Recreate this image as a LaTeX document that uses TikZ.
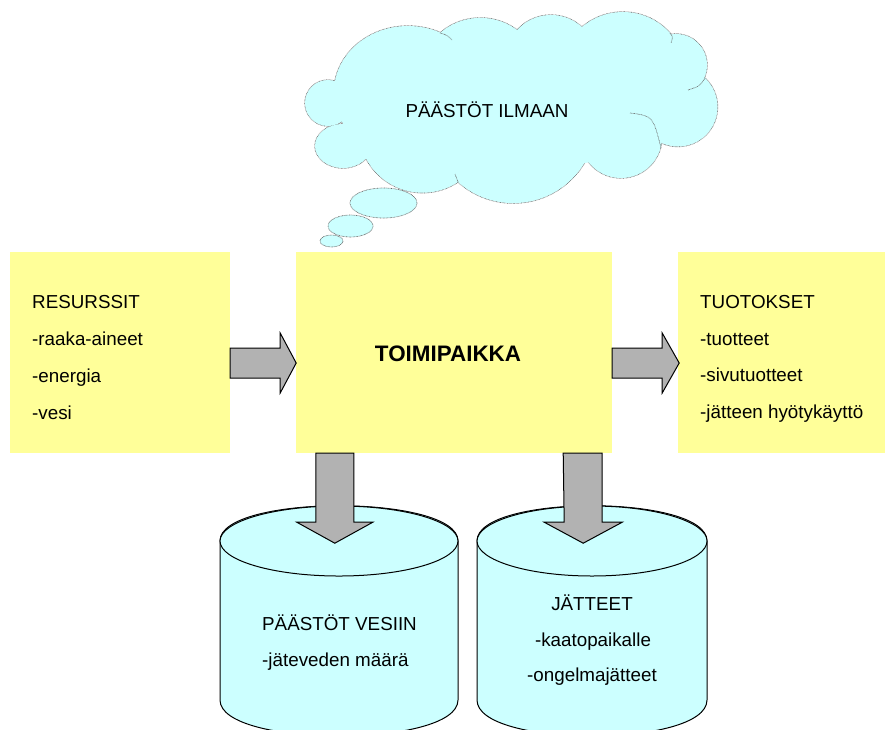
\documentclass[tikz,border=0pt]{standalone}
\usepackage{fontspec}
\setmainfont{Liberation Sans}
\usetikzlibrary{calc}
\definecolor{boxyellow}{HTML}{FFFF99}
\definecolor{cloudcyan}{HTML}{CCFFFF}
\definecolor{arrowgray}{HTML}{B2B2B2}
\tikzset{
  panel/.style={fill=boxyellow, draw=none, inner sep=0pt},
  lbl/.style={font=\fontsize{18.8}{22}\selectfont, inner sep=0pt},
  boldlbl/.style={font=\bfseries\fontsize{22.4}{26}\selectfont, inner sep=0pt},
  blockarrow/.style={fill=arrowgray, draw=black, line width=1pt, line join=miter},
  cylst/.style={fill=cloudcyan, draw=black, line width=1pt},
  cloudborder/.style={draw=black!60, line width=1.3pt, dash pattern=on 0.7pt off 0.7pt},
  cloudline/.style={draw=black!60, line width=0.65pt, dash pattern=on 0.7pt off 0.7pt},
}
\begin{document}
\begin{tikzpicture}[x=1pt,y=-1pt]
\useasboundingbox[fill=white] (0,0) rectangle (885,729);

% ---------- cloud ----------
\def\lobes{328/103/23/23, 343/146/28/22, 422.6/128.9/63.8/63.8, 513.3/120.1/83/83,
  621/137/41/41, 678/107/39.5/39.5, 676/65/31/31, 622.9/75.3/63.3/63.3,
  551/60.8/45.8/45.8, 480.4/79.5/61.6/61.6, 408/92/74/66}
\foreach \cx/\cy/\rx/\ry in \lobes {
  \draw[cloudborder] (\cx,\cy) ellipse[x radius=\rx, y radius=\ry];
}
\foreach \cx/\cy/\rx/\ry in \lobes {
  \fill[cloudcyan] (\cx,\cy) ellipse[x radius=\rx, y radius=\ry];
}
\fill[cloudcyan] (360,80) -- (440,45) -- (520,45) -- (580,45) -- (660,50) -- (690,80)
  -- (680,130) -- (600,160) -- (500,180) -- (420,170) -- (360,140) -- cycle;
% interior hooks
\draw[cloudline] (630,113) .. controls (653,116) .. (661,148);
\draw[cloudline] (688,90) .. controls (700,86) .. (705,78);
\draw[cloudline] (670,33) .. controls (673,37) .. (671,43);
\draw[cloudline] (440,33) .. controls (447,35) .. (452,40);
\draw[cloudline] (458,182) .. controls (456,178) .. (455,174);
% thought bubbles
\draw[cloudline, fill=cloudcyan] (383.5,203) ellipse[x radius=33.5, y radius=15];
\draw[cloudline, fill=cloudcyan] (350.5,226) ellipse[x radius=22.5, y radius=11];
\draw[cloudline, fill=cloudcyan] (331.5,241) ellipse[x radius=11.5, y radius=6];
\node[lbl, anchor=base] (cloudT) at (487,117) {PÄÄSTÖT ILMAAN};

% ---------- boxes ----------
\node[panel, minimum width=220pt, minimum height=201pt] (res) at (120,352.5) {};
\node[panel, minimum width=316pt, minimum height=201pt] (toimi) at (454,352.5) {};
\node[panel, minimum width=207pt, minimum height=201pt] (tuot) at (781.5,352.5) {};

\node[lbl, anchor=base west] (r1) at (32,308) {RESURSSIT};
\node[lbl, anchor=base west] (r2) at (32,345) {-raaka-aineet};
\node[lbl, anchor=base west] (r3) at (32,382) {-energia};
\node[lbl, anchor=base west] (r4) at (32,419) {-vesi};

\node[boldlbl, anchor=base] (toimiT) at (448,361) {TOIMIPAIKKA};

\node[lbl, anchor=base west] (t1) at (700,308) {TUOTOKSET};
\node[lbl, anchor=base west] (t2) at (700,345) {-tuotteet};
\node[lbl, anchor=base west] (t3) at (700,381) {-sivutuotteet};
\node[lbl, anchor=base west] (t4) at (700,418) {-jätteen hyötykäyttö};

% ---------- cylinders ----------
\draw[cylst] (220,541) -- (220,700) .. controls (220,748) and (458,748) .. (458,700)
  -- (458,541) .. controls (458,494) and (220,494) .. (220,541) -- cycle;
\draw[cylst] (339,541) ellipse[x radius=119, y radius=35];
\draw[cylst] (477,541) -- (477,700) .. controls (477,748) and (707,748) .. (707,700)
  -- (707,541) .. controls (707,494) and (477,494) .. (477,541) -- cycle;
\draw[cylst] (592,541) ellipse[x radius=115, y radius=35];

\node[lbl, anchor=base west] (v1) at (262,630) {PÄÄSTÖT VESIIN};
\node[lbl, anchor=base west] (v2) at (262,666) {-jäteveden määrä};
\node[lbl, anchor=base] (j1) at (592,610) {JÄTTEET};
\node[lbl, anchor=base] (j2) at (593,646) {-kaatopaikalle};
\node[lbl, anchor=base] (j3) at (592,681) {-ongelmajätteet};

% ---------- block arrows ----------
\draw[blockarrow] (res.east) ++(0,-4.5) -- ++(50,0) -- ++(0,-15) -- ++(16,30)
  -- ++(-16,30) -- ++(0,-15) -- ++(-50,0) -- cycle;
\draw[blockarrow] (toimi.east) ++(0,-4.5) -- ++(50,0) -- ++(0,-15) -- ++(17,30)
  -- ++(-17,30) -- ++(0,-15) -- ++(-50,0) -- cycle;
\draw[blockarrow] (toimi.south west) ++(20,0) -- ++(38,0) -- ++(0,69) -- ++(19,0)
  -- ++(-38,21) -- ++(-38,-21) -- ++(19,0) -- cycle;
\draw[blockarrow] (toimi.south east) ++(-49,0) -- ++(39,0) -- ++(0,69) -- ++(20,0)
  -- ++(-39,21) -- ++(-39,-21) -- ++(20,0) -- cycle;
\end{tikzpicture}
\end{document}
